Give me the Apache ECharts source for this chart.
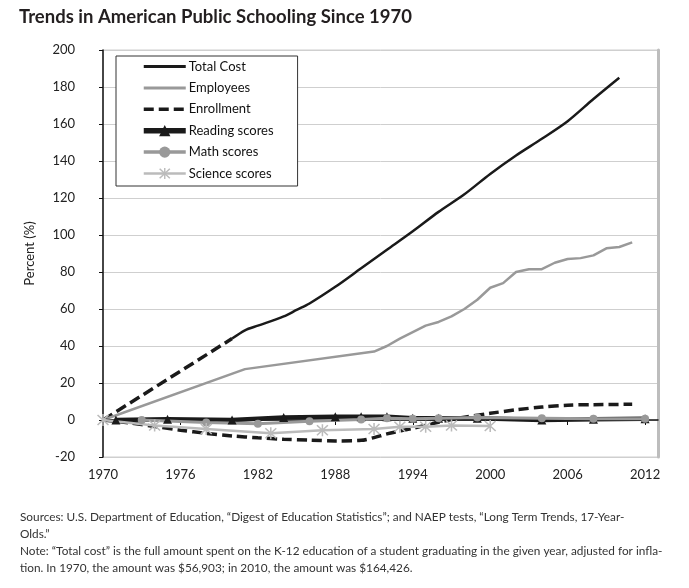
<!DOCTYPE html>
<html lang="en">
<head>
    <meta charset="UTF-8">
    <title>Trends in American Public Schooling Since 1970</title>
    <style>
        html, body { margin: 0; padding: 0; background: #fff; }
    </style>
</head>
<body>
    <div id="main" style="width: 689px;height:588px;"></div>
    <script src="https://cdn.jsdelivr.net/npm/echarts@6/dist/echarts.min.js"></script>
    <script type="text/javascript">
        var myChart = echarts.init(document.getElementById('main'));

        // x axis ticks
        var yearTicks = [1970, 1976, 1982, 1988, 1994, 2000, 2006, 2012];

        // Total cost: dashed (estimated) part, then solid part
        var costDashYears = [1970, 1980];
        var costDashValues = [0, 44];
        var costYears = [1980, 1981, 1982, 1984, 1985, 1986, 1988, 1990, 1992, 1994, 1996, 1998, 2000, 2002, 2004, 2006, 2008, 2010];
        var costValues = [44, 48.5, 51, 56, 59.5, 63, 72, 82, 92, 102, 112.5, 122, 133, 143, 152, 161.5, 173.5, 185];

        var empYears = [1970, 1981, 1991, 1992, 1993, 1994, 1995, 1996, 1997, 1998, 1999, 2000, 2001, 2002, 2003, 2004, 2005, 2006, 2007, 2008, 2009, 2010, 2011];
        var empValues = [0, 27.5, 37, 40, 44, 47.5, 51, 53, 56, 60, 65, 71.5, 74, 80, 81.5, 81.5, 85, 87, 87.5, 89, 92.8, 93.5, 96];

        var enrYears = [1970, 1972, 1974, 1976, 1978, 1980, 1982, 1984, 1986, 1988, 1990, 1991, 1992, 1994, 1996, 1998, 2000, 2002, 2004, 2006, 2008, 2011];
        var enrValues = [0, -1.5, -3.5, -5.5, -7.2, -8.6, -9.6, -10.4, -10.9, -11.3, -11, -9.5, -7.5, -4.5, -1.2, 1.5, 3.6, 5.5, 7, 8, 8.3, 8.5];

        var readYears = [1971, 1975, 1980, 1984, 1988, 1990, 1992, 1994, 1996, 1999, 2004, 2008, 2012];
        var readValues = [0, 0.4, 0, 1.4, 1.8, 1.8, 1.8, 1, 1, 1, 0, 0.4, 0.7];

        var mathYears = [1973, 1978, 1982, 1986, 1990, 1992, 1994, 1996, 1999, 2004, 2008, 2012];
        var mathValues = [0, -1.3, -2, -0.7, 0.3, 1, 0.7, 1, 1.3, 1, 0.7, 0.7];

        var sciYears = [1970, 1974, 1978, 1983, 1987, 1991, 1993, 1995, 1997, 2000];
        var sciValues = [0, -3, -4.9, -7.2, -5.6, -4.9, -3.6, -3.6, -3, -3.3];

        var pairs = function (xs, ys) {
            return xs.map(function (x, i) { return [x, ys[i]]; });
        };

        var STAR = 'path://M5.3,0L6.7,0L6.7,12L5.3,12Z' +
            'M1.5,0.5L11.5,10.5L10.5,11.5L0.5,1.5Z' +
            'M11.5,1.5L1.5,11.5L0.5,10.5L10.5,0.5Z';

        var FONT = 'Lato, "Liberation Sans", sans-serif';

        var note = 'Sources: U.S. Department of Education, \u201cDigest of Education Statistics\u201d; and NAEP tests, \u201cLong Term Trends, 17-Year-\n' +
            'Olds.\u201d\n' +
            'Note: \u201cTotal cost\u201d is the full amount spent on the K-12 education of a student graduating in the given year, adjusted for infla-\n' +
            'tion. In 1970, the amount was $56,903; in 2010, the amount was $164,426.';

        var option = {
            animation: false,
            backgroundColor: '#fff',
            title: {
                text: 'Trends in American Public Schooling Since 1970',
                left: 14,
                top: 3,
                textStyle: { fontFamily: FONT, fontSize: 18.5, fontWeight: 'bold', color: '#231f20' }
            },
            legend: {
                orient: 'vertical',
                left: 116,
                top: 56,
                padding: [4, 24, 6, 25],
                itemWidth: 42,
                itemHeight: 14,
                itemGap: 8.4,
                backgroundColor: '#fff',
                borderColor: '#333',
                borderWidth: 1,
                borderRadius: 0,
                textStyle: { fontFamily: FONT, fontSize: 13, color: '#111', padding: [0, 0, 0, -2] },
                data: [
                    { name: 'Total Cost', itemStyle: { opacity: 0 }, lineStyle: { width: 3 } },
                    { name: 'Employees', itemStyle: { opacity: 0 }, lineStyle: { width: 3 } },
                    { name: 'Enrollment', itemStyle: { opacity: 0 }, lineStyle: { width: 3.5 } },
                    { name: 'Reading scores', lineStyle: { width: 5.5 } },
                    { name: 'Math scores', lineStyle: { width: 3.5 } },
                    { name: 'Science scores', lineStyle: { width: 2.5 } }
                ]
            },
            grid: {
                left: 103,
                right: 31,
                top: 50,
                bottom: 131,
                show: true,
                borderColor: '#cfcfcf',
                borderWidth: 1
            },
            xAxis: {
                type: 'value',
                min: 1970,
                max: 2013,
                interval: 6,
                axisLine: { lineStyle: { color: '#111', width: 1.5 } },
                axisTick: { show: true, length: 5, customValues: yearTicks, lineStyle: { color: '#111' } },
                axisLabel: {
                    customValues: yearTicks,
                    formatter: function (v) { return String(v); },
                    margin: 11,
                    fontFamily: FONT, fontSize: 13, color: '#222'
                },
                splitLine: { show: false }
            },
            yAxis: [{
                type: 'value',
                min: -20,
                max: 200,
                interval: 20,
                name: 'Percent (%)',
                nameLocation: 'middle',
                nameGap: 67,
                nameTextStyle: { fontFamily: FONT, fontSize: 13, color: '#222' },
                axisLine: { show: true, lineStyle: { color: '#111', width: 1.5 } },
                axisTick: { show: true, length: 4, lineStyle: { color: '#111' } },
                axisLabel: { margin: 28, fontFamily: FONT, fontSize: 13, color: '#222' },
                splitLine: { lineStyle: { color: '#cfcfcf', width: 1 } }
            }, {
                type: 'value',
                position: 'right',
                min: -20,
                max: 200,
                axisLine: { show: true, lineStyle: { color: '#bdbdbd', width: 3 } },
                axisTick: { show: false },
                axisLabel: { show: false },
                splitLine: { show: false }
            }],
            series: [{
                name: 'Total Cost',
                type: 'line',
                symbol: 'none',
                smooth: 0.3,
                lineStyle: { color: '#1a1a1a', width: 2.5 },
                itemStyle: { color: '#1a1a1a' },
                data: pairs(costYears, costValues)
            }, {
                name: 'Total Cost (est.)',
                type: 'line',
                symbol: 'none',
                lineStyle: { color: '#1a1a1a', width: 3.5, type: [11, 5] },
                itemStyle: { color: '#1a1a1a' },
                data: pairs(costDashYears, costDashValues)
            }, {
                name: 'Employees',
                type: 'line',
                symbol: 'none',
                lineStyle: { color: '#999', width: 2.5 },
                itemStyle: { color: '#999' },
                data: pairs(empYears, empValues)
            }, {
                name: 'Enrollment',
                type: 'line',
                symbol: 'none',
                smooth: 0.3,
                lineStyle: { color: '#1a1a1a', width: 3.5, type: [10, 5] },
                itemStyle: { color: '#1a1a1a' },
                data: pairs(enrYears, enrValues)
            }, {
                name: 'Reading scores',
                type: 'line',
                symbol: 'triangle',
                symbolSize: 9,
                lineStyle: { color: '#1a1a1a', width: 4.5 },
                itemStyle: { color: '#1a1a1a' },
                data: pairs(readYears, readValues)
            }, {
                name: 'Math scores',
                type: 'line',
                symbol: 'circle',
                symbolSize: 8,
                lineStyle: { color: '#999', width: 3 },
                itemStyle: { color: '#999' },
                data: pairs(mathYears, mathValues)
            }, {
                name: 'Science scores',
                type: 'line',
                symbol: STAR,
                symbolSize: 12,
                lineStyle: { color: '#bbb', width: 2.5 },
                itemStyle: { color: '#bbb' },
                data: pairs(sciYears, sciValues)
            }],
            graphic: [{
                type: 'text',
                left: 20,
                top: 509,
                style: {
                    text: note,
                    fontFamily: FONT,
                    fontSize: 11.8,
                    lineHeight: 16.8,
                    fill: '#333'
                }
            }]
        };

        myChart.setOption(option);
    </script>
</body>
</html>
